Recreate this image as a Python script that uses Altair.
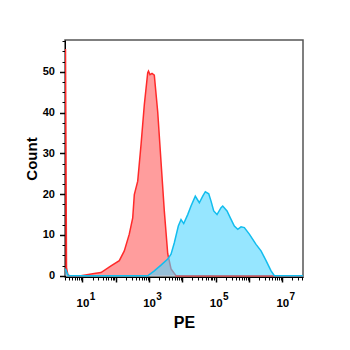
import altair as alt
import pandas as pd

# log10(PE) positions and counts
red_log = [0.475, 0.49, 0.52, 0.56, 0.62, 0.955, 1.354, 1.556, 1.856, 2.105, 2.255, 2.405, 2.508, 2.556,
           2.658, 2.757, 2.856, 2.958, 2.982, 3.027, 3.087, 3.156, 3.258, 3.357, 3.456, 3.559,
           3.658, 3.808, 7.62]
red_cnt = [55.4, 55.4, 2.0, 0.3, 0.0, 0.0, 0.56, 0.8, 2.4, 3.7, 6.1, 10.2, 14.2, 19.9,
           23.2, 32.1, 41.9, 49.8, 50.2, 49.3, 49.6, 49.2, 40.2, 28.0, 15.9, 5.4,
           1.7, 0.0, 0.0]

blue_log = [0.475, 0.49, 0.575, 2.958, 3.156, 3.357, 3.559, 3.658, 3.757, 3.877, 3.958, 4.039, 4.159,
            4.258, 4.387, 4.508, 4.610, 4.688, 4.790, 4.859, 4.940, 5.039, 5.159, 5.210, 5.339,
            5.438, 5.559, 5.661, 5.760, 5.859, 6.009, 6.210, 6.360, 6.511, 6.661, 6.760, 7.62]
blue_cnt = [1.7, 1.6, 0.0, 0.0, 1.2, 2.6, 4.1, 5.3, 8.1, 12.2, 13.8, 12.8, 15.0,
            17.1, 19.5, 17.9, 19.5, 20.6, 20.1, 18.3, 15.9, 15.0, 16.7, 17.1, 15.9,
            14.2, 12.2, 11.4, 12.0, 11.8, 10.2, 7.7, 6.1, 3.7, 1.2, 0.0, 0.0]

major_labels = [10, 1000, 100000, 10000000]
exponents = ["1", "3", "5", "7"]

x_min, x_max = 10 ** 0.475, 10 ** 7.62
y_min, y_max = -0.3, 57.8

red = pd.DataFrame({"pe": [10 ** v for v in red_log], "count": red_cnt})
blue = pd.DataFrame({"pe": [10 ** v for v in blue_log], "count": blue_cnt})

x_ticks = [k * 10 ** d for d in range(0, 8) for k in range(1, 10) if x_min <= k * 10 ** d <= x_max]
y_ticks = [i * 2.5 for i in range(0, 24)]

base_expr = "indexof(" + str(major_labels) + ", datum.value) >= 0 ? '10' : ''"
exp_expr = " : ".join(
    "datum.value == %d ? '%s'" % (v, e) for v, e in zip(major_labels, exponents)) + " : ''"
x_major = "abs(log(datum.value)/LN10 - round(log(datum.value)/LN10)) < 0.001"

x_scale = alt.Scale(type="log", domain=[x_min, x_max], nice=False)

x_enc = alt.X("pe:Q", scale=x_scale,
              axis=alt.Axis(values=x_ticks, labelExpr=base_expr, title="PE", orient="bottom",
                            tickSize={"condition": {"test": x_major, "value": 5}, "value": 3},
                            tickWidth={"condition": {"test": x_major, "value": 1.5}, "value": 1},
                            labelFlush=False, labelOverlap=False,
                            labelFontSize=11.5, labelFontWeight="bold", labelColor="black",
                            labelPadding=15, titleFontSize=16, titleFontWeight="bold",
                            titlePadding=6, titleColor="black", domainColor="black",
                            tickColor="black", grid=False))
x_exp = alt.X("pe:Q", scale=x_scale,
              axis=alt.Axis(values=major_labels, labelExpr=exp_expr, title=None, orient="bottom",
                            ticks=False, tickSize=0, domain=False, labelOffset=9.5,
                            labelFlush=False, labelOverlap=False,
                            labelFontSize=10, labelFontWeight="bold", labelColor="black",
                            labelPadding=14, grid=False))
y_enc = alt.Y("count:Q", scale=alt.Scale(domain=[y_min, y_max], nice=False, zero=False),
              axis=alt.Axis(values=y_ticks,
                            labelExpr="datum.value % 10 == 0 ? datum.label : ''",
                            tickSize={"condition": {"test": "datum.value % 10 == 0", "value": 5.5}, "value": 3},
                            tickWidth={"condition": {"test": "datum.value % 10 == 0", "value": 1.5}, "value": 1},
                            labelFontSize=11, labelFontWeight="bold", labelColor="black",
                            labelPadding=5, titleFontSize=15, titleFontWeight="bold",
                            titlePadding=3, titleColor="black", domainColor="black",
                            tickColor="black", labelOverlap=False, grid=False, title="Count"))

def area(df, color, op):
    return alt.Chart(df).mark_area(color=color, opacity=op, clip=True).encode(
        x=x_enc, y=y_enc, y2=alt.datum(0))

def line(df, color):
    return alt.Chart(df).mark_line(color=color, strokeWidth=1.5, clip=True).encode(x=x_enc, y=y_enc)

curves = alt.layer(
    area(red, "#FF3C3C", 0.5),
    line(red, "#FF2A2A"),
    area(blue, "#50D5FF", 0.6),
    line(blue, "#12BDEE"),
)
exp_layer = alt.Chart(red).mark_line(opacity=0).encode(x=x_exp, y=y_enc)

chart = alt.layer(curves, exp_layer).resolve_axis(x="independent").properties(
    width=238, height=237, padding={"left": 16, "top": 27, "right": 5, "bottom": 5}
).configure_view(
    stroke="#555555", strokeWidth=1.5
).configure_axis(labelFont="Liberation Sans", titleFont="Liberation Sans")

chart.save("out.html", embed_options={"renderer": "svg", "actions": False})
